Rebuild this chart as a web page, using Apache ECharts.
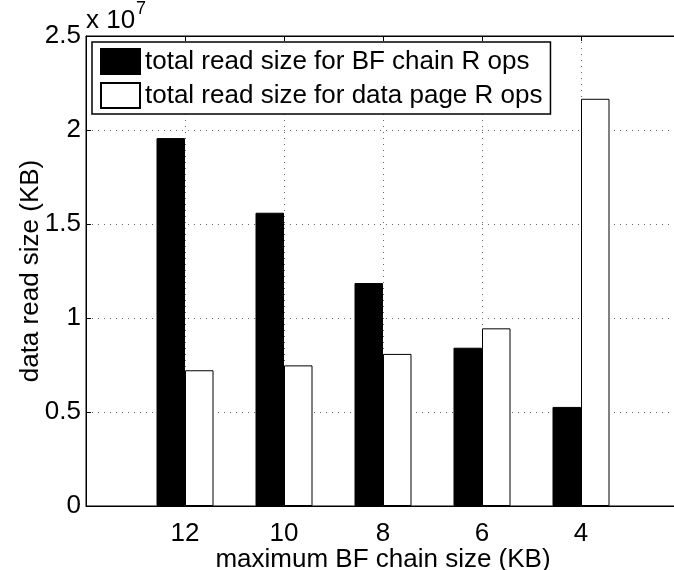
<!DOCTYPE html>
<html>
<head>
<meta charset="utf-8">
<script src="https://cdn.jsdelivr.net/npm/echarts@6/dist/echarts.min.js"></script>
<style>
html,body{margin:0;padding:0;background:#fff;}
#chart{width:674px;height:570px;}
</style>
</head>
<body>
<div id="chart"></div>
<script>
// Data (values in KB)
var categories = ['12', '10', '8', '6', '4'];
var bfChainRead = [19570000, 15600000, 11860000, 8420000, 5270000];
var dataPageRead = [7220000, 7480000, 8090000, 9450000, 21660000];
var yTicks = [0, 0.5, 1, 1.5, 2, 2.5];
var seriesNames = ['total read size for BF chain R ops', 'total read size for data page R ops'];
var scaleExp = 7;

var FONT = 'Liberation Sans';
var FS = 26;
var axisData = [''].concat(categories).concat(['']);
function pad(arr){ return ['-'].concat(arr).concat(['-']); }

var chart = echarts.init(document.getElementById('chart'), null, {renderer: 'canvas'});
var option = {
  animation: false,
  backgroundColor: '#fff',
  textStyle: {fontFamily: FONT},
  grid: {left: 86, right: -6, top: 36, bottom: 64, show: true, borderColor: '#000', borderWidth: 1,
         containLabel: false, outerBoundsMode: 'none'},
  legend: {
    data: seriesNames,
    orient: 'vertical',
    left: 92, top: 42,
    itemWidth: 39, itemHeight: 25,
    itemGap: 7,
    padding: [6, 8, 5, 8],
    backgroundColor: '#fff',
    borderColor: '#000',
    borderWidth: 1.5,
    borderRadius: 0,
    textStyle: {fontFamily: FONT, fontSize: FS, color: '#000', lineHeight: 25},
    icon: 'rect',
    selectedMode: false
  },
  xAxis: [{
    type: 'category',
    data: axisData,
    boundaryGap: false,
    axisLine: {show: true, lineStyle: {color: '#000', width: 1}},
    axisTick: {show: true, inside: true, length: 5, lineStyle: {color: '#000'}},
    axisLabel: {fontFamily: FONT, fontSize: FS, color: '#000', margin: 15, interval: 0},
    splitLine: {show: true, lineStyle: {color: '#666', type: [1, 5], width: 1}},
    name: 'maximum BF chain size (KB)',
    nameLocation: 'middle',
    nameGap: 41,
    nameMoveOverlap: false,
    nameTextStyle: {fontFamily: FONT, fontSize: FS, color: '#000'}
  }, {
    type: 'category',
    data: axisData,
    boundaryGap: false,
    position: 'top',
    axisLine: {show: true, lineStyle: {color: '#000'}},
    axisTick: {show: true, inside: true, length: 5, lineStyle: {color: '#000'}},
    axisLabel: {show: false},
    splitLine: {show: false}
  }],
  yAxis: {
    type: 'value',
    min: 0, max: 25000000, interval: 5000000,
    axisLine: {show: true, lineStyle: {color: '#000', width: 1}},
    axisTick: {show: true, inside: true, length: 5, lineStyle: {color: '#000'}},
    axisLabel: {
      fontFamily: FONT, fontSize: FS, color: '#000', margin: 5,
      formatter: function(v){ var t = v / Math.pow(10, scaleExp); var m = yTicks.filter(function(k){return Math.abs(k - t) < 1e-9;}); return m.length ? String(m[0]) : ''; }
    },
    splitLine: {show: true, lineStyle: {color: '#666', type: [1, 5], width: 1}},
    name: 'data read size (KB)',
    nameLocation: 'middle',
    nameGap: 42,
    nameRotate: 90,
    nameMoveOverlap: false,
    nameTextStyle: {fontFamily: FONT, fontSize: FS, color: '#000'}
  },
  series: [{
    name: seriesNames[0],
    type: 'bar',
    data: pad(bfChainRead),
    barWidth: 28.5,
    barGap: '0%',
    itemStyle: {color: '#000', borderColor: '#000', borderWidth: 1}
  }, {
    name: seriesNames[1],
    type: 'bar',
    data: pad(dataPageRead),
    barWidth: 28.5,
    barGap: '0%',
    itemStyle: {color: '#fff', borderColor: '#000', borderWidth: 1}
  }],
  graphic: [{
    type: 'text', left: 86, top: 8,
    style: {text: 'x 10', fontFamily: FONT, fontSize: 26, fill: '#000'}
  }, {
    type: 'text', left: 136, top: 0,
    style: {text: String(scaleExp), fontFamily: FONT, fontSize: 18, fill: '#000'}
  }]
};
chart.setOption(option);
</script>
</body>
</html>
